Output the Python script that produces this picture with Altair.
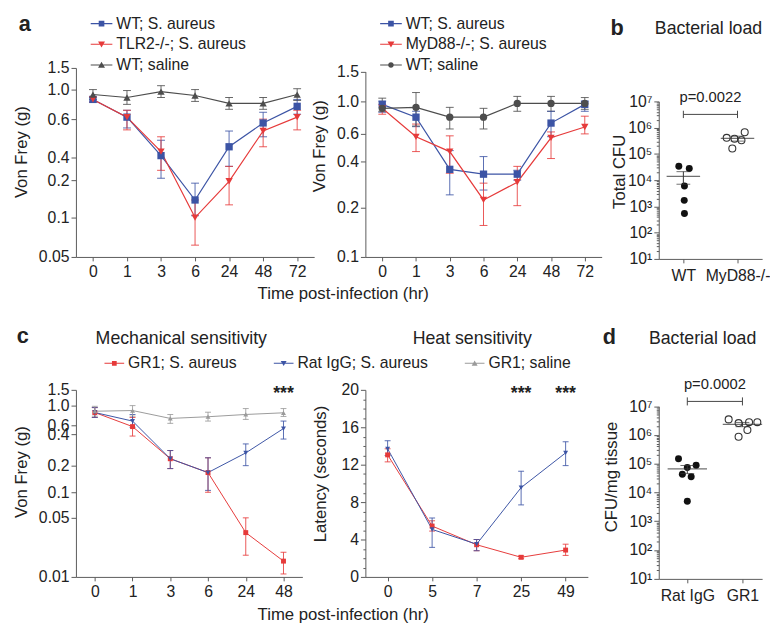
import json
import altair as alt
import pandas as pd

FONT = "Liberation Sans"
BLUE = "#3c54a5"
RED = "#e63a3a"
DGRAY = "#4d4d4d"
LGRAY = "#9a9a9a"
AXIS = "#5a5a5a"
TXT = "#2e2e2e"

# ---------------- panel a, left ----------------
a1_time = ["0", "1", "3", "6", "24", "48", "72"]
a1_names = ["WT; S. aureus", "TLR2-/-; S. aureus", "WT; saline"]
a1_wt = [0.867, 0.627, 0.41, 0.147, 0.456, 0.58, 0.773]
a1_wt_lo = [0.83, 0.554, 0.217, 0.105, 0.322, 0.508, 0.667]
a1_wt_hi = [0.9, 0.72, 0.49, 0.192, 0.538, 0.693, 0.867]
a1_tlr = [0.867, 0.627, 0.431, 0.1, 0.197, 0.538, 0.627]
a1_tlr_lo = [0.83, 0.544, 0.287, 0.065, 0.134, 0.456, 0.544]
a1_tlr_hi = [0.9, 0.72, 0.508, 0.147, 0.322, 0.6, 0.72]
a1_sal = [0.933, 0.893, 0.973, 0.92, 0.813, 0.813, 0.933]
a1_sal_lo = [0.867, 0.8, 0.893, 0.84, 0.733, 0.733, 0.853]
a1_sal_hi = [1.0, 0.987, 1.09, 1.0, 0.893, 0.893, 1.02]
a1_ticks = [0.05, 0.1, 0.2, 0.4, 0.6, 1.0, 1.5]
a1_tick_labels = ["0.05", "0.1", "0.2", "0.4", "0.6", "1.0", "1.5"]

# ---------------- panel a, right ----------------
a2_time = ["0", "1", "3", "6", "24", "48", "72"]
a2_names = ["WT; S. aureus", "MyD88-/-; S. aureus", "WT; saline"]
a2_wt = [0.96, 0.804, 0.367, 0.346, 0.346, 0.732, 0.96]
a2_wt_lo = [0.864, 0.688, 0.256, 0.277, 0.32, 0.58, 0.876]
a2_wt_hi = [1.0, 0.876, 0.48, 0.437, 0.363, 0.876, 1.0]
a2_myd = [0.912, 0.579, 0.473, 0.234, 0.311, 0.572, 0.684]
a2_myd_lo = [0.84, 0.473, 0.35, 0.164, 0.209, 0.423, 0.6]
a2_myd_hi = [0.96, 0.72, 0.586, 0.307, 0.38, 0.624, 0.816]
a2_sal = [0.912, 0.924, 0.804, 0.804, 0.972, 0.972, 0.972]
a2_sal_lo = [0.876, 0.696, 0.66, 0.66, 0.876, 0.876, 0.9]
a2_sal_hi = [1.05, 1.145, 0.924, 0.912, 1.08, 1.08, 1.06]
a2_ticks = [0.1, 0.2, 0.4, 0.6, 1.0, 1.5]
a2_tick_labels = ["0.1", "0.2", "0.4", "0.6", "1.0", "1.5"]

# ---------------- panel b ----------------
b_groups = ["WT", "MyD88-/-"]
b_wt = [3.4e4, 2.8e4, 6.0e3, 1.7e3, 5.4e2]
b_wt_jitter = [-0.084, 0.109, 0.02, 0.016, 0.02]
b_myd = [4.1e5, 3.8e5, 3.3e5, 6.7e5, 1.6e5]
b_myd_jitter = [-0.2, -0.055, 0.073, 0.133, -0.096]
b_bracket = 3.2e6
b_p = "p=0.0022"

# ---------------- panel c, left ----------------
c1_time = ["0", "1", "3", "6", "24", "48"]
c_names = ["GR1; S. aureus", "Rat IgG; S. aureus", "GR1; saline"]
c1_gr1 = [0.86, 0.571, 0.244, 0.174, 0.04, 0.0207]
c1_gr1_lo = [0.76, 0.388, 0.189, 0.1, 0.0247, 0.012]
c1_gr1_hi = [0.96, 0.76, 0.296, 0.25, 0.05, 0.0267]
c1_rat = [0.86, 0.686, 0.244, 0.174, 0.281, 0.527]
c1_rat_lo = [0.76, 0.556, 0.189, 0.107, 0.2, 0.369]
c1_rat_hi = [0.96, 0.82, 0.296, 0.25, 0.338, 0.686]
c1_sal = [0.886, 0.9, 0.74, 0.774, 0.82, 0.854]
c1_sal_lo = [0.786, 0.786, 0.64, 0.686, 0.72, 0.78]
c1_sal_hi = [0.986, 1.0, 0.82, 0.866, 0.94, 0.94]
c1_ticks = [0.01, 0.05, 0.1, 0.2, 0.4, 0.6, 1.0, 1.5]
c1_tick_labels = ["0.01", "0.05", "0.1", "0.2", "0.4", "0.6", "1.0", "1.5"]
c1_stars = [("48", 1.5)]

# ---------------- panel c, right ----------------
c2_time = ["0", "5", "7", "25", "49"]
c2_names = ["GR1; S. aureus", "Rat IgG; S. aureus"]
c2_gr1 = [13.05, 5.44, 3.44, 2.1, 2.87]
c2_gr1_lo = [12.3, 4.9, 2.8, 1.95, 2.3]
c2_gr1_hi = [13.7, 6.0, 4.0, 2.25, 3.5]
c2_rat = [13.7, 5.08, 3.5, 9.55, 13.26]
c2_rat_lo = [12.98, 3.16, 2.8, 7.7, 11.9]
c2_rat_hi = [14.56, 6.3, 4.0, 11.3, 14.45]
c2_ticks = list(range(0, 21))
c2_stars = [("25", 20), ("49", 20)]

# ---------------- panel d ----------------
d_groups = ["Rat IgG", "GR1"]
d_rat = [1.5e5, 7.4e4, 8.9e4, 4.3e4, 3.5e4, 4.9e3]
d_rat_jitter = [-0.16, 0.0, 0.16, -0.09, 0.07, 0.0]
d_gr1 = [3.5e6, 2.6e6, 2.8e6, 2.8e6, 1.5e6, 8.7e5]
d_gr1_jitter = [-0.25, -0.07, 0.12, 0.27, 0.09, -0.07]
d_bracket = 1.48e7
d_p = "p=0.0002"

log_ticks = [m * 10 ** k for k in range(1, 7) for m in range(1, 10)] + [1e7]

SUP = ["\u2070", "\u00b9", "\u00b2", "\u00b3", "\u2074", "\u2075", "\u2076", "\u2077"]
IS_MAJOR = "abs(log(datum.value)/LN10 - round(log(datum.value)/LN10)) < 0.001"
LOG_LABEL = (IS_MAJOR + " ? '10' + " + json.dumps(SUP, ensure_ascii=False)
             + "[round(log(datum.value)/LN10)] : ''")


def list_expr(values, labels):
    return "%s[indexof(%s, datum.value)]" % (json.dumps(labels), json.dumps(values))


def sym_paths(kind_list, unit_line, sq, tri):
    out = []
    line = "M-1,-%g H1 V%g H-1 Z" % (unit_line, unit_line)
    for k in kind_list:
        if k == "square":
            m = "M-%g,-%g H%g V%g H-%g Z" % (sq, sq, sq, sq, sq)
        elif k == "triangle-down":
            m = "M-%g,-%g L%g,-%g L0,%g Z" % (tri, tri * 0.8, tri, tri * 0.8, tri * 0.9)
        elif k == "triangle-up":
            m = "M%g,%g L-%g,%g L0,-%g Z" % (tri, tri * 0.8, tri, tri * 0.8, tri * 0.9)
        else:
            m = "M-%g,0 A%g,%g,0,1,1,%g,0 A%g,%g,0,1,1,-%g,0 Z" % (sq, sq, sq, sq, sq, sq, sq)
        out.append(line + " " + m)
    return out


def txt(text, x, y, size, weight="normal", align="left"):
    return alt.Chart(pd.DataFrame({"t": [text]})).mark_text(
        align=align, baseline="alphabetic", fontSize=size, fontWeight=weight,
        font=FONT, color="#222222"
    ).encode(text="t:N", x=alt.value(x), y=alt.value(y))


def line_panel(times, names, series, colors, shapes, ydomain, ylabels, yrange, ytitle,
               ytitle_pos, width, height, xrange, msize, cap, lw, legend=None,
               xtitle=None, xtitle_pos=None, yvalues=None, ylabel_expr=None,
               ytick_size=5, stars=(), extra=()):
    rows = []
    for name, (m, lo, hi) in zip(names, series):
        for i, t in enumerate(times):
            rows.append({"time": t, "idx": i, "series": name, "val": m[i], "lo": lo[i], "hi": hi[i]})
    df = pd.DataFrame(rows)

    xkw = dict(labelAngle=0, tickSize=4, labelPadding=3, labelOverlap=False)
    if xtitle:
        xkw.update(title=xtitle, titleX=xtitle_pos[0], titleY=xtitle_pos[1],
                   titleAlign="center", titleBaseline="middle")
    else:
        xkw.update(title=None)
    xaxis = alt.Axis(**xkw)
    xscale = alt.Scale(type="point", padding=0.5, range=xrange)

    yscale = alt.Scale(type="linear", domain=ydomain, range=yrange, nice=False, zero=False)
    yaxis = alt.Axis(
        title=ytitle, values=yvalues if yvalues is not None else ydomain,
        labelExpr=ylabel_expr if ylabel_expr else list_expr(ydomain, ylabels),
        tickSize=ytick_size, labelPadding=2, labelOverlap=False,
        titleX=ytitle_pos[0], titleY=ytitle_pos[1], titleAlign="center",
        titleBaseline="middle", titleAngle=270,
    )

    def X():
        return alt.X("time:N", sort=times, scale=xscale, axis=xaxis)

    def Y(field):
        return alt.Y(field + ":Q", scale=yscale, axis=yaxis)

    cscale = alt.Scale(domain=names, range=colors)
    err = alt.Chart(df).mark_errorbar(ticks=True, size=cap, thickness=1, opacity=0.85).encode(
        x=X(), y=Y("lo"), y2=alt.Y2("hi:Q"),
        color=alt.Color("series:N", scale=cscale, legend=None))
    lines = alt.Chart(df).mark_line(strokeWidth=lw).encode(
        x=X(), y=Y("val"), order="idx:Q",
        color=alt.Color("series:N", scale=cscale, legend=None))
    pts = alt.Chart(df).mark_point(filled=True, opacity=1, size=msize, strokeWidth=0).encode(
        x=X(), y=Y("val"),
        color=alt.Color("series:N", scale=cscale, legend=None),
        shape=alt.Shape("series:N", scale=alt.Scale(domain=names, range=shapes), legend=None))
    layers = [err, lines, pts]
    if legend is not None:
        lnames, lcolors, lpaths, lkw = legend
        leg = alt.Legend(title=None, orient="none", labelFont=FONT, labelFontSize=16,
                         labelColor="#222222", symbolStrokeWidth=0, symbolOpacity=1,
                         labelLimit=400, labelOffset=4, **lkw)
        ldf = pd.DataFrame({"series": lnames, "time": [times[0]] * len(lnames), "val": [ydomain[-1]] * len(lnames)})
        legl = alt.Chart(ldf).transform_filter("false").mark_point(filled=True, opacity=1).encode(
            x=X(), y=Y("val"),
            color=alt.Color("series:N", scale=alt.Scale(domain=lnames, range=lcolors), legend=leg),
            shape=alt.Shape("series:N", scale=alt.Scale(domain=lnames, range=lpaths), legend=leg))
        layers.append(legl)
    if stars:
        sdf = pd.DataFrame({"time": [s[0] for s in stars], "val": [s[1] for s in stars], "t": ["***"] * len(stars)})
        layers.append(alt.Chart(sdf).mark_text(fontSize=18, font=FONT, fontWeight="bold",
                                               color="#222222", baseline="middle", dy=4).encode(
            x=X(), y=Y("val"), text="t:N"))
    layers.extend(extra)
    return alt.layer(*layers).resolve_scale(color="independent", shape="independent").properties(
        width=width, height=height)


def scatter_panel(groups, vals, jits, ytitle, ytitle_pos, width, height, yrange, xdomain,
                  bracket_y, ptext, mean_w, extra=()):
    rows = []
    for gi, (vs, js) in enumerate(zip(vals, jits)):
        for v, j in zip(vs, js):
            rows.append({"gi": gi, "x": gi + j, "val": v})
    df = pd.DataFrame(rows)
    xaxis = alt.Axis(title=None, values=[0, 1], labelExpr=json.dumps(groups) + "[round(datum.value)]",
                     tickSize=4, labelPadding=5, labelFlush=False, labelOverlap=False)
    xscale = alt.Scale(domain=xdomain, nice=False, zero=False)
    yscale = alt.Scale(type="log", domain=[10, 1e7], range=yrange, nice=False)
    yaxis = alt.Axis(title=ytitle, values=log_ticks, labelExpr=LOG_LABEL,
                     tickSize={"condition": {"test": IS_MAJOR, "value": 5}, "value": 2.5},
                     labelPadding=2, labelOverlap=False,
                     titleX=ytitle_pos[0], titleY=ytitle_pos[1], titleAlign="center",
                     titleBaseline="middle", titleAngle=270)

    def X(f):
        return alt.X(f + ":Q", scale=xscale, axis=xaxis)

    def Y(f):
        return alt.Y(f + ":Q", scale=yscale, axis=yaxis)

    filled = alt.Chart(df).transform_filter("datum.gi == 0").mark_point(
        shape="circle", filled=True, size=50, color="#111111", opacity=1).encode(x=X("x"), y=Y("val"))
    openc = alt.Chart(df).transform_filter("datum.gi == 1").mark_point(
        shape="circle", filled=False, size=50, color="#333333", strokeWidth=1.1, opacity=1).encode(
        x=X("x"), y=Y("val"))
    agg = alt.Chart(df).transform_aggregate(m="mean(val)", se="stderr(val)", groupby=["gi"]).transform_calculate(
        lo="datum.m - datum.se", hi="datum.m + datum.se")
    mean = agg.mark_tick(orient="horizontal", size=mean_w, thickness=1.2, color="#333333").encode(
        x=X("gi"), y=Y("m"))
    sem = agg.mark_rule(color="#333333", strokeWidth=1).encode(x=X("gi"), y=Y("lo"), y2=alt.Y2("hi:Q"))
    caplo = agg.mark_tick(orient="horizontal", size=14, thickness=1, color="#333333").encode(
        x=X("gi"), y=Y("lo"))
    caphi = agg.mark_tick(orient="horizontal", size=14, thickness=1, color="#333333").encode(
        x=X("gi"), y=Y("hi"))
    br = pd.DataFrame({"x0": [0], "x1": [1], "y": [bracket_y], "t": [ptext]})
    brline = alt.Chart(br).mark_rule(color="#444444", strokeWidth=1).encode(
        x=X("x0"), x2=alt.X2("x1:Q"), y=Y("y"))
    brends = alt.Chart(br).transform_fold(["x0", "x1"], as_=["k", "xe"]).transform_calculate(
        y1="datum.y * pow(10, -0.14)", y2="datum.y * pow(10, 0.14)").mark_rule(
        color="#444444", strokeWidth=1).encode(x=X("xe"), y=Y("y1"), y2=alt.Y2("y2:Q"))
    ptxt = alt.Chart(br).transform_calculate(xm="(datum.x0 + datum.x1) / 2").mark_text(
        fontSize=15, font=FONT, color="#222222", baseline="middle", dy=-18).encode(
        x=X("xm"), y=Y("y"), text="t:N")
    layers = [brline, brends, ptxt, filled, openc, sem, caplo, caphi, mean] + list(extra)
    return alt.layer(*layers).properties(width=width, height=height)


a_paths_left = sym_paths(["square", "triangle-down", "triangle-up"], 0.05, 0.26, 0.32)
a_paths_right = sym_paths(["square", "triangle-down", "circle"], 0.05, 0.26, 0.32)
c_paths = sym_paths(["square", "triangle-down", "triangle-up"], 0.05, 0.24, 0.3)

a1 = line_panel(
    a1_time, a1_names,
    [(a1_wt, a1_wt_lo, a1_wt_hi), (a1_tlr, a1_tlr_lo, a1_tlr_hi), (a1_sal, a1_sal_lo, a1_sal_hi)],
    [BLUE, RED, DGRAY], ["square", "triangle-down", "triangle-up"],
    a1_ticks, a1_tick_labels, [192, 152, 114, 91, 52, 22, 0], "Von Frey (g)", (-55, 85),
    252, 192, [0, 242], 55, 8, 1.2,
    legend=(a1_names, [BLUE, RED, DGRAY], a_paths_left,
            dict(legendX=15, legendY=-56, direction="vertical", symbolSize=484, rowPadding=2)),
    xtitle="Time post-infection (hr)", xtitle_pos=(271, 37),
    extra=[txt("a", -58, -38, 22, "bold")])

a2 = line_panel(
    a2_time, a2_names,
    [(a2_wt, a2_wt_lo, a2_wt_hi), (a2_myd, a2_myd_lo, a2_myd_hi), (a2_sal, a2_sal_lo, a2_sal_hi)],
    [BLUE, RED, DGRAY], ["square", "triangle-down", "circle"],
    a2_ticks, a2_tick_labels, [192, 142, 95.3, 67, 33.7, 3.7], "Von Frey (g)", (-47, 79),
    252, 192, [0, 240], 55, 8, 1.2,
    legend=(a2_names, [BLUE, RED, DGRAY], a_paths_right,
            dict(legendX=15, legendY=-56, direction="vertical", symbolSize=484, rowPadding=2)))

b = scatter_panel(b_groups, [b_wt, b_myd], [b_wt_jitter, b_myd_jitter], "Total CFU", (-40, 105),
                  105, 194, [194, 34], [-0.4545, 1.4545], b_bracket, b_p, 34,
                  extra=[txt("b", -49, -33, 22, "bold"), txt("Bacterial load", -4, -34, 18)])

c1 = line_panel(
    c1_time, c_names,
    [(c1_gr1, c1_gr1_lo, c1_gr1_hi), (c1_rat, c1_rat_lo, c1_rat_hi), (c1_sal, c1_sal_lo, c1_sal_hi)],
    [RED, BLUE, LGRAY], ["square", "triangle-down", "triangle-up"],
    c1_ticks, c1_tick_labels, [190, 130, 104, 77, 45, 36, 16, 0], "Von Frey (g)", (-55, 83),
    254, 190, [0, 230], 25, 6, 1,
    legend=(c_names, [RED, BLUE, LGRAY], c_paths,
            dict(legendX=29, legendY=-37, direction="horizontal", symbolSize=400, columnPadding=37)),
    xtitle="Time post-infection (hr)", xtitle_pos=(271, 38), stars=c1_stars,
    extra=[txt("c", -60, -48, 22, "bold"), txt("Mechanical sensitivity", 20, -47, 18)])

c2 = line_panel(
    c2_time, c2_names,
    [(c2_gr1, c2_gr1_lo, c2_gr1_hi), (c2_rat, c2_rat_lo, c2_rat_hi)],
    [RED, BLUE], ["square", "triangle-down"],
    [0, 20], None, [190, 0], "Latency (seconds)", (-45, 85),
    258, 190, [0, 226], 25, 6, 1,
    yvalues=c2_ticks, ylabel_expr="datum.value % 4 == 0 ? '' + datum.value : ''",
    ytick_size={"condition": {"test": "datum.value % 4 == 0", "value": 5}, "value": 2.5},
    stars=c2_stars,
    extra=[txt("Heat sensitivity", 48, -47, 18)])

d = scatter_panel(d_groups, [d_rat, d_gr1], [d_rat_jitter, d_gr1_jitter], "CFU/mg tissue", (-48, 88),
                  105, 192, [191.7, 16.7], [-0.518, 1.357], d_bracket, d_p, 40,
                  extra=[txt("d", -57, -47, 22, "bold"), txt("Bacterial load", -10, -47, 18)])

chart = alt.concat(
    a1, a2, b, c1, c2, d, columns=3,
    spacing={"row": 133, "column": 40}, bounds="flush",
    align={"row": "all", "column": "none"},
).properties(
    padding={"left": 5, "top": 0, "right": 0, "bottom": 0}
).configure_view(stroke=None).configure_axis(
    grid=False, labelFont=FONT, titleFont=FONT, labelFontSize=16, titleFontSize=17,
    titleFontWeight="normal", labelColor="#222222", titleColor="#222222",
    domainColor=AXIS, tickColor=AXIS, domainWidth=1, tickWidth=1,
)

chart.save("out.html", embed_options={"renderer": "svg", "actions": False})
